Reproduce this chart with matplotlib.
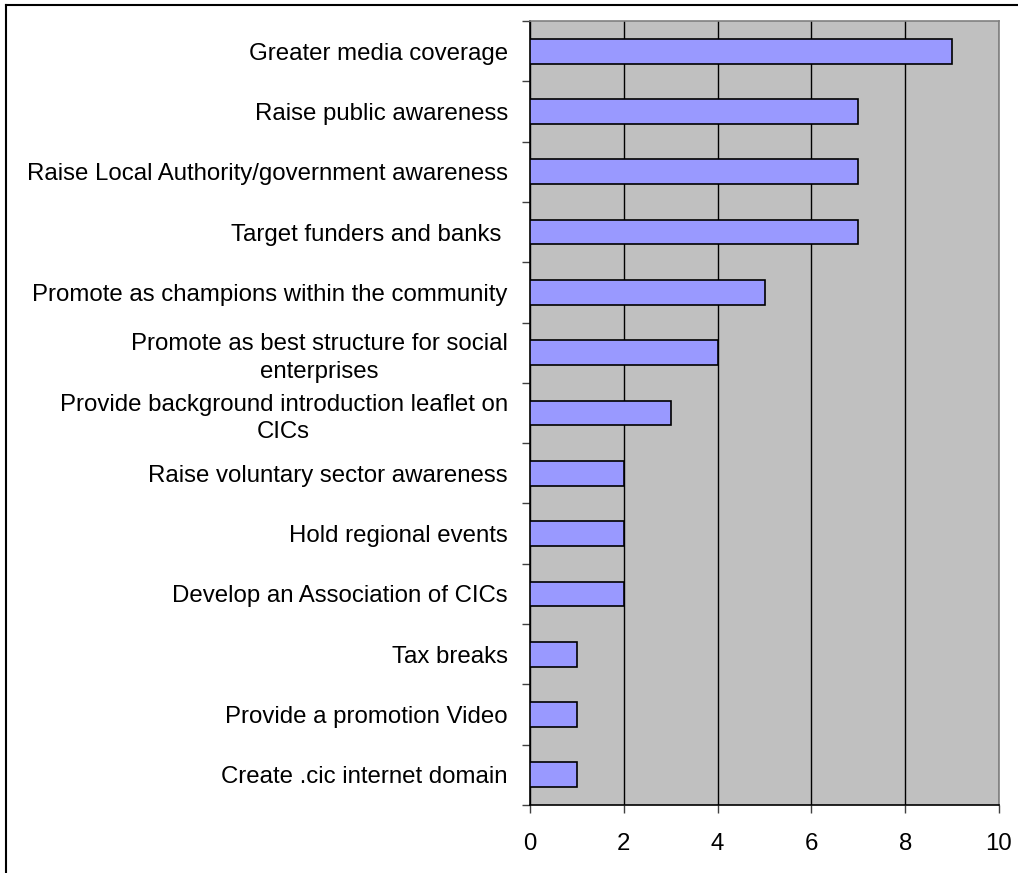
import matplotlib
matplotlib.use("Agg")
import matplotlib.pyplot as plt
from matplotlib.lines import Line2D

categories = [
    "Greater media coverage",
    "Raise public awareness",
    "Raise Local Authority/government awareness",
    "Target funders and banks ",
    "Promote as champions within the community",
    "Promote as best structure for social\nenterprises",
    "Provide background introduction leaflet on\nCICs",
    "Raise voluntary sector awareness",
    "Hold regional events",
    "Develop an Association of CICs",
    "Tax breaks",
    "Provide a promotion Video",
    "Create .cic internet domain",
]
values = [9, 7, 7, 7, 5, 4, 3, 2, 2, 2, 1, 1, 1]
xticks = [0, 2, 4, 6, 8, 10]

plt.rcParams['font.family'] = ['Liberation Sans', 'DejaVu Sans']

W, H = 1018, 873
fig = plt.figure(figsize=(W / 100, H / 100), dpi=100)
ax = fig.add_axes([530 / W, 1 - 805 / H, (999 - 530) / W, (805 - 21) / H])
ax.set_facecolor('#C0C0C0')

n = len(categories)
ypos = list(range(n))
ax.barh(ypos, values, height=0.41, color='#9999FF', edgecolor='black', linewidth=1.2, zorder=3)
ax.set_ylim(n - 0.5, -0.5)
ax.set_xlim(0, 10)
ax.set_xticks(xticks)
ax.set_xticklabels([str(t) for t in xticks], fontsize=17.3)
ax.set_yticks(ypos)
ax.set_yticklabels(categories, fontsize=17.3, multialignment='center', linespacing=1.35)
ax.set_yticks([i - 0.5 for i in range(n + 1)], minor=True)
ax.tick_params(axis='y', which='major', length=0, pad=16)
ax.tick_params(axis='y', which='minor', length=5.5, width=1, color='#404040', direction='out')
ax.tick_params(axis='x', length=5.5, width=1, color='#404040', direction='out', pad=15)
ax.xaxis.grid(True, color='black', linewidth=1, zorder=1)
ax.set_axisbelow(True)
for s in ['top', 'right']:
    ax.spines[s].set_color('#808080')
    ax.spines[s].set_linewidth(1.2)
for s in ['left', 'bottom']:
    ax.spines[s].set_color('black')
    ax.spines[s].set_linewidth(1.2)

# figure border (left and top visible)
fig.add_artist(Line2D([6 / W, 6 / W], [0, 1 - 5 / H], transform=fig.transFigure, color='black', linewidth=1.5))
fig.add_artist(Line2D([6 / W, 1], [1 - 5 / H, 1 - 5 / H], transform=fig.transFigure, color='black', linewidth=1.5))

fig.savefig('out.png', dpi=100)
